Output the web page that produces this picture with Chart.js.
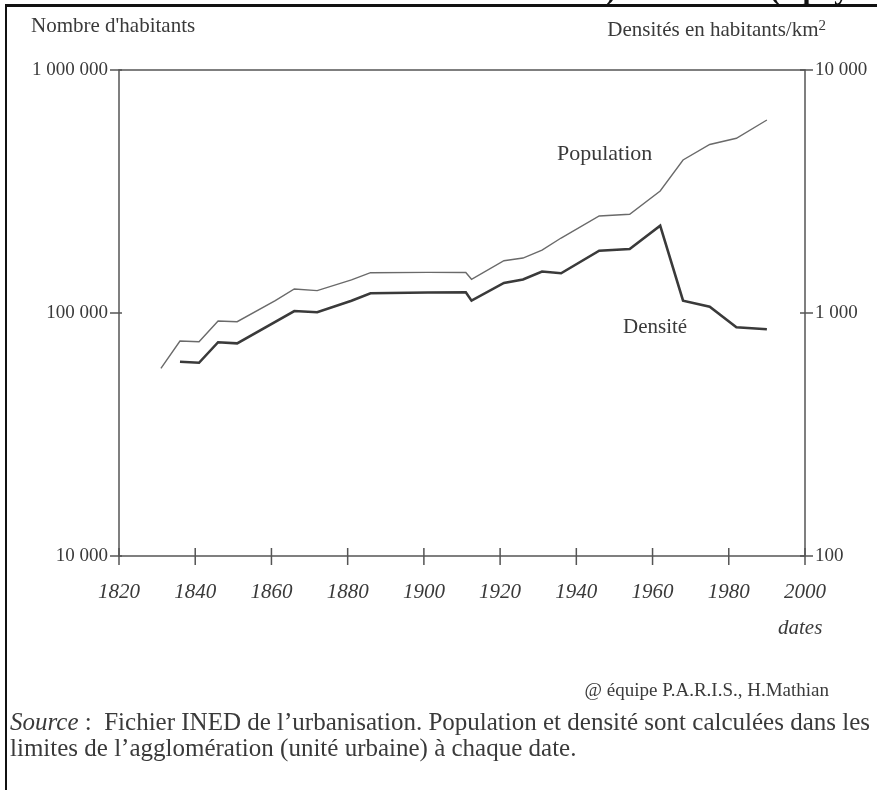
<!DOCTYPE html>
<html>
<head>
<meta charset="utf-8">
<script src="https://cdn.jsdelivr.net/npm/chart.js@4/dist/chart.umd.min.js"></script>
<style>
  body { margin: 0; background: #fff; }
  #wrap { position: relative; width: 877px; height: 790px; overflow: hidden; font-family: "Liberation Serif", "Times New Roman", serif; color: #3a3a3a; }
  #wrap canvas { position: absolute; left: 0; top: 0; }
  .t { position: absolute; white-space: nowrap; line-height: 1; }
  .frameTop { position: absolute; left: 5px; top: 4px; width: 872px; height: 3px; background: #111; }
  .frameLeft { position: absolute; left: 5px; top: 4px; width: 2px; height: 786px; background: #111; }
</style>
</head>
<body>
<div id="wrap">
  <canvas id="chart" width="877" height="790"></canvas>
  <div class="t" style="left:606px; top:-26px; font-size:30px; font-weight:bold; color:#111;">)</div>
  <div class="t" style="left:770px; top:-26px; font-size:30px; font-weight:bold; color:#111;">(à pays</div>
  <div class="frameTop"></div>
  <div class="frameLeft"></div>
  <div class="t" style="left:31px; top:15px; font-size:21px;">Nombre d'habitants</div>
  <div class="t" style="right:51px; top:18px; font-size:21px;">Densités en habitants/km<span style="font-size:15px; vertical-align:6px;">2</span></div>
  <div class="t" style="left:557px; top:142px; font-size:22px;">Population</div>
  <div class="t" style="left:623px; top:316px; font-size:21px;">Densité</div>
  <div class="t" style="left:778px; top:617px; font-size:21px; font-style:italic;">dates</div>
  <div class="t" style="right:48px; top:680px; font-size:19px;">@ équipe P.A.R.I.S., H.Mathian</div>
  <div class="t" style="left:10px; top:709px; font-size:25px;"><i>Source</i> :&nbsp; Fichier INED de l’urbanisation. Population et densité sont calculées dans les</div>
  <div class="t" style="left:10px; top:735px; font-size:25px;">limites de l’agglomération (unité urbaine) à chaque date.</div>
</div>
<script>
// population (nombre d'habitants)
const popYears = [1831, 1836, 1841, 1846, 1851, 1861, 1866, 1872, 1881, 1886, 1901, 1911, 1912.5, 1921, 1926, 1931, 1936, 1946, 1954, 1962, 1968, 1975, 1982, 1990];
const popValues = [59200, 76700, 76200, 92700, 92100, 112400, 125600, 123600, 136800, 146500, 147000, 146700, 137600, 164100, 168300, 181600, 203500, 250700, 255000, 317800, 426200, 493600, 523500, 622600];

// densité (habitants/km2)
const densYears = [1836, 1841, 1846, 1851, 1866, 1872, 1881, 1886, 1901, 1911, 1912.5, 1921, 1926, 1931, 1936, 1946, 1954, 1962, 1968, 1975, 1982, 1990];
const densValues = [630, 624, 758, 750, 1019, 1007, 1124, 1205, 1215, 1217, 1124, 1329, 1374, 1482, 1457, 1805, 1834, 2287, 1124, 1062, 873, 857];

const popTicks = [10000, 100000, 1000000];
const popTickLabels = ['10 000', '100 000', '1 000 000'];
const densTicks = [100, 1000, 10000];
const densTickLabels = ['100', '1 000', '10 000'];

const axisColor = '#555';
const textColor = '#3a3a3a';

Chart.defaults.font.family = '"Liberation Serif", "Times New Roman", serif';
Chart.defaults.color = textColor;

const toPoints = (xs, ys) => xs.map((x, i) => ({ x, y: ys[i] }));

// frame + tick marks crossing the axes
const framePlugin = {
    id: 'frame',
    afterDraw(chart) {
        const { ctx, chartArea: ca, scales } = chart;
        ctx.save();
        ctx.strokeStyle = axisColor;
        ctx.lineWidth = 1.5;
        ctx.strokeRect(ca.left, ca.top, ca.right - ca.left, ca.bottom - ca.top);
        ctx.beginPath();
        scales.x.ticks.forEach(t => {
            const px = scales.x.getPixelForValue(t.value);
            ctx.moveTo(px, ca.bottom - 8);
            ctx.lineTo(px, ca.bottom + 9);
        });
        scales.y.ticks.forEach(t => {
            const py = scales.y.getPixelForValue(t.value);
            ctx.moveTo(ca.left - 9, py);
            ctx.lineTo(ca.left + 3, py);
        });
        scales.y2.ticks.forEach(t => {
            const py = scales.y2.getPixelForValue(t.value);
            ctx.moveTo(ca.right - 5, py);
            ctx.lineTo(ca.right + 8, py);
        });
        ctx.stroke();
        ctx.restore();
    }
};

new Chart(document.getElementById('chart'), {
    type: 'line',
    data: {
        datasets: [
            {
                label: 'Population',
                data: toPoints(popYears, popValues),
                yAxisID: 'y',
                borderColor: '#6a6a6a',
                borderWidth: 1.4,
                pointRadius: 0,
                tension: 0
            },
            {
                label: 'Densité',
                data: toPoints(densYears, densValues),
                yAxisID: 'y2',
                borderColor: '#3a3a3a',
                borderWidth: 2.6,
                pointRadius: 0,
                tension: 0
            }
        ]
    },
    options: {
        responsive: false,
        animation: false,
        layout: { padding: { top: 70, left: 0, right: 0, bottom: 0 } },
        plugins: { legend: { display: false }, tooltip: { enabled: false } },
        scales: {
            x: {
                type: 'linear',
                min: 1820,
                max: 2000,
                grid: { display: false },
                border: { display: false },
                ticks: {
                    stepSize: 20,
                    padding: 16,
                    maxRotation: 0,
                    font: { size: 21, style: 'italic' },
                    callback: v => String(v)
                },
                afterFit: s => { s.height = 234; }
            },
            y: {
                type: 'logarithmic',
                position: 'left',
                min: 10000,
                max: 1000000,
                grid: { display: false },
                border: { display: false },
                ticks: {
                    padding: 3,
                    font: { size: 19 },
                    callback: v => popTickLabels[popTicks.indexOf(v)]
                },
                afterBuildTicks: s => { s.ticks = popTicks.map(value => ({ value })); },
                afterFit: s => { s.width = 119; }
            },
            y2: {
                type: 'logarithmic',
                position: 'right',
                min: 100,
                max: 10000,
                grid: { display: false },
                border: { display: false },
                ticks: {
                    padding: 2,
                    font: { size: 19 },
                    callback: v => densTickLabels[densTicks.indexOf(v)]
                },
                afterBuildTicks: s => { s.ticks = densTicks.map(value => ({ value })); },
                afterFit: s => { s.width = 72; }
            }
        }
    },
    plugins: [framePlugin]
});
</script>
</body>
</html>
